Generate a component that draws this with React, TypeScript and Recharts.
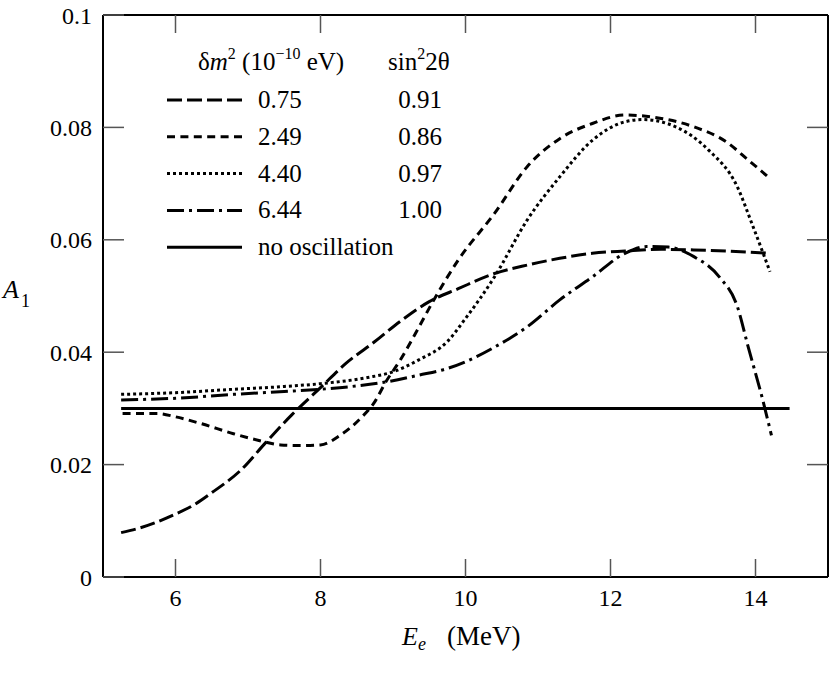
import { LineChart, Line, XAxis, YAxis } from "recharts";

// δm² = 0.75 (long dash)
const energyA = [5.25, 5.5, 6.0, 6.25, 6.5, 6.9, 7.25, 7.6, 8.0, 8.35, 8.75, 9.1, 9.5, 9.9, 10.4, 10.85, 11.3, 11.75, 12.2, 12.7, 13.15, 13.6, 14.2];
const asymA = [0.0079, 0.0087, 0.0112, 0.0128, 0.015, 0.019, 0.024, 0.0288, 0.0337, 0.038, 0.0419, 0.0455, 0.049, 0.0513, 0.054, 0.0555, 0.0567, 0.0576, 0.058, 0.0583, 0.0582, 0.058, 0.0576];

// δm² = 2.49 (short dash)
const energyB = [5.27, 5.75, 6.0, 6.35, 6.8, 7.15, 7.45, 7.7, 8.0, 8.27, 8.55, 8.75, 8.9, 9.1, 9.3, 9.55, 9.9, 10.4, 10.85, 11.3, 11.75, 12.2, 12.7, 13.15, 13.6, 13.9, 14.2];
const asymB = [0.0291, 0.0291, 0.0285, 0.0273, 0.0255, 0.0243, 0.0235, 0.0234, 0.0235, 0.0252, 0.0282, 0.0312, 0.0347, 0.0386, 0.0431, 0.049, 0.0564, 0.0647, 0.073, 0.078, 0.0807, 0.0822, 0.0816, 0.0801, 0.0774, 0.0742, 0.0709];

// δm² = 4.40 (dotted)
const energyC = [5.25, 6.0, 6.8, 7.5, 8.0, 8.65, 9.0, 9.35, 9.75, 10.0, 10.4, 10.85, 11.3, 11.75, 12.2, 12.45, 12.9, 13.35, 13.75, 13.95, 14.2];
const asymC = [0.0325, 0.0328, 0.0334, 0.0339, 0.0344, 0.0355, 0.0365, 0.0386, 0.0419, 0.046, 0.0534, 0.0635, 0.0712, 0.0777, 0.081, 0.0814, 0.0801, 0.076, 0.0694, 0.0629, 0.0543];

// δm² = 6.44 (dash-dot)
const energyD = [5.25, 6.0, 6.8, 7.5, 8.0, 8.5, 8.9, 9.35, 9.75, 10.0, 10.4, 10.85, 11.3, 11.75, 12.2, 12.5, 12.8, 13.15, 13.5, 13.75, 13.9, 14.1, 14.22];
const asymD = [0.0315, 0.0318, 0.0325, 0.033, 0.0334, 0.034, 0.0347, 0.0359, 0.0371, 0.0383, 0.0409, 0.0445, 0.0493, 0.0534, 0.0576, 0.0588, 0.0587, 0.057, 0.0534, 0.0481, 0.0409, 0.0315, 0.0252];

// no oscillation
const energyNone = [5.25, 14.47];
const asymNone = [0.03, 0.03];

const xDomain = [5, 15];
const yDomain = [0, 0.1];
const xTicks = [6, 8, 10, 12, 14];
const yTicks = [0, 0.02, 0.04, 0.06, 0.08, 0.1];

const deltaM2 = ["0.75", "2.49", "4.40", "6.44"];
const sin22theta = ["0.91", "0.86", "0.97", "1.00"];

const toPoints = (xs: number[], ys: number[]) => xs.map((E, i) => ({ E, A: ys[i] }));

// the flat line sits on the frame axes (same domains) so those get drawn too
const series = [
  { key: "a", data: toPoints(energyA, asymA), dash: "15 5", width: 3, xId: "bottom", yId: "left" },
  { key: "b", data: toPoints(energyB, asymB), dash: "8 5.4", width: 3, xId: "bottom", yId: "left" },
  { key: "c", data: toPoints(energyC, asymC), dash: "3 3", width: 3, xId: "bottom", yId: "left" },
  { key: "d", data: toPoints(energyD, asymD), dash: "17 5 3 5", width: 3, xId: "bottom", yId: "left" },
  { key: "none", data: toPoints(energyNone, asymNone), dash: undefined, width: 3, xId: "top", yId: "right" },
];

const FONT = "'Liberation Serif', 'Times New Roman', serif";
const TICK_COLOR = "#555";
const tickStyle = { fontFamily: FONT, fontSize: 24, fill: "#000" };
const tickLineStyle = { stroke: TICK_COLOR, strokeWidth: 1.5 };
const axisLineStyle = { stroke: "#000", strokeWidth: 2 };

// plot box, matching the chart margins / axis sizes below
const PLOT = { left: 103, right: 828, top: 15, bottom: 577 };
const px = (E: number) => PLOT.left + ((E - xDomain[0]) / (xDomain[1] - xDomain[0])) * (PLOT.right - PLOT.left);
const py = (v: number) => PLOT.bottom - ((v - yDomain[0]) / (yDomain[1] - yDomain[0])) * (PLOT.bottom - PLOT.top);

function Overlay() {
  const rowY = (i: number) => 108 + i * 36.8;
  return (
    <svg width={830} height={688} style={{ position: "absolute", left: 0, top: 0, pointerEvents: "none" }} fontFamily={FONT} fontSize={25}>
      {/* inward ticks on the top and right frame edges */}
      {xTicks.map((t) => (
        <line key={`tt-${t}`} x1={px(t)} x2={px(t)} y1={PLOT.top} y2={PLOT.top + 18} stroke={TICK_COLOR} strokeWidth={1.5} />
      ))}
      {yTicks.slice(1, -1).map((t) => (
        <line key={`rt-${t}`} x1={PLOT.right - 21} x2={PLOT.right} y1={py(t)} y2={py(t)} stroke={TICK_COLOR} strokeWidth={1.5} />
      ))}
      <text x={198} y={70}>
        δ<tspan fontStyle="italic">m</tspan>
        <tspan fontSize={16} dy={-11}>2</tspan>
        <tspan dy={11}> (10</tspan>
        <tspan fontSize={16} dy={-11}>−10</tspan>
        <tspan dy={11}> eV)</tspan>
      </text>
      <text x={388} y={70}>
        sin<tspan fontSize={16} dy={-11}>2</tspan>
        <tspan dy={11}>2θ</tspan>
      </text>
      {series.map((s, i) => (
        <g key={s.key}>
          <line x1={167} x2={242} y1={rowY(i) - 8} y2={rowY(i) - 8} stroke="#000" strokeWidth={s.width} strokeDasharray={s.dash} />
          {i < deltaM2.length ? (
            <>
              <text x={258} y={rowY(i)}>{deltaM2[i]}</text>
              <text x={420} y={rowY(i)} textAnchor="middle">{sin22theta[i]}</text>
            </>
          ) : (
            <text x={258} y={rowY(i)}>no oscillation</text>
          )}
        </g>
      ))}
      <text x={3} y={298} fontStyle="italic" fontSize={26}>A</text>
      <text x={21} y={307} fontSize={18}>1</text>
      <text x={402} y={645} fontSize={26} fontStyle="italic">E</text>
      <text x={418} y={650} fontSize={18} fontStyle="italic">e</text>
      <text x={447} y={645} fontSize={27}>(MeV)</text>
    </svg>
  );
}

export default function App() {
  return (
    <div style={{ position: "absolute", left: 0, top: 0, width: 830, height: 688, background: "#fff" }}>
      <LineChart width={830} height={688} margin={{ top: 13, right: 0, bottom: 51, left: 0 }}>
        <XAxis
          xAxisId="bottom"
          dataKey="E"
          type="number"
          domain={xDomain}
          ticks={xTicks}
          allowDataOverflow
          interval={0}
          height={60}
          tickSize={-18}
          tickMargin={30}
          tick={tickStyle}
          tickLine={tickLineStyle}
          axisLine={axisLineStyle}
        />
        <XAxis
          xAxisId="top"
          orientation="top"
          dataKey="E"
          type="number"
          domain={xDomain}
          allowDataOverflow
          height={2}
          tick={false}
          tickLine={false}
          axisLine={axisLineStyle}
        />
        <YAxis
          yAxisId="left"
          type="number"
          domain={yDomain}
          ticks={yTicks}
          allowDataOverflow
          interval={0}
          width={103}
          tickSize={-21}
          tickMargin={32}
          tick={tickStyle}
          tickLine={tickLineStyle}
          axisLine={axisLineStyle}
        />
        <YAxis
          yAxisId="right"
          orientation="right"
          type="number"
          domain={yDomain}
          allowDataOverflow
          width={2}
          tick={false}
          tickLine={false}
          axisLine={axisLineStyle}
        />
        {series.map((s) => (
          <Line
            key={s.key}
            xAxisId={s.xId}
            yAxisId={s.yId}
            data={s.data}
            dataKey="A"
            type="monotone"
            stroke="#000"
            strokeWidth={s.width}
            strokeDasharray={s.dash}
            dot={false}
            activeDot={false}
            isAnimationActive={false}
          />
        ))}
      </LineChart>
      <Overlay />
    </div>
  );
}
